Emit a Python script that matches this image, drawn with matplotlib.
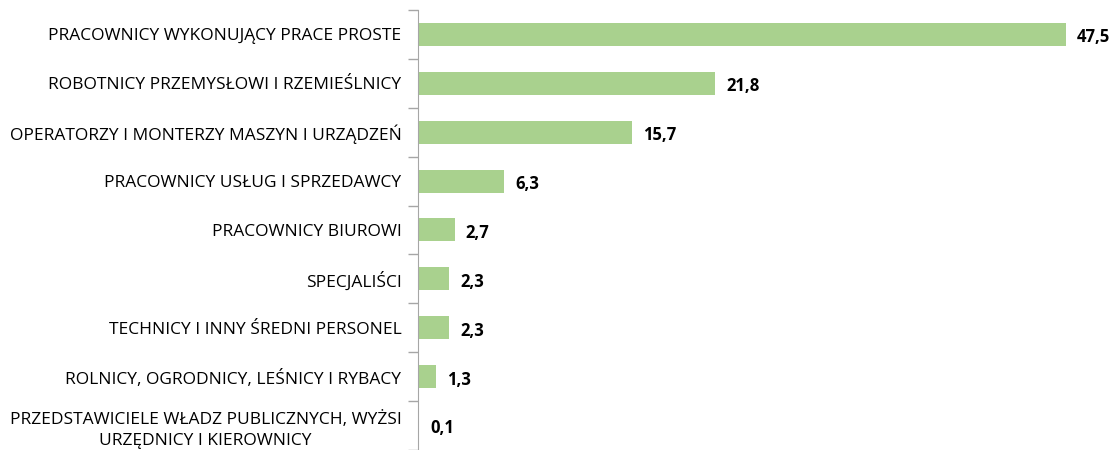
import numpy as np
import matplotlib.pyplot as plt

# DATA
categories = ['PRACOWNICY WYKONUJĄCY PRACE PROSTE',
              'ROBOTNICY PRZEMYSŁOWI I RZEMIEŚLNICY',
              'OPERATORZY I MONTERZY MASZYN I URZĄDZEŃ',
              'PRACOWNICY USŁUG I SPRZEDAWCY',
              'PRACOWNICY BIUROWI',
              'SPECJALIŚCI',
              'TECHNICY I INNY ŚREDNI PERSONEL',
              'ROLNICY, OGRODNICY, LEŚNICY I RYBACY',
              'PRZEDSTAWICIELE WŁADZ PUBLICZNYCH, WYŻSI\nURZĘDNICY I KIEROWNICY']
values = [47.5, 21.8, 15.7, 6.3, 2.7, 2.3, 2.3, 1.3, 0.1]
value_labels = ['47,5', '21,8', '15,7', '6,3', '2,7', '2,3', '2,3', '1,3', '0,1']

plt.rcParams['font.family'] = ['Open Sans', 'DejaVu Sans']

fig = plt.figure(figsize=(11.16, 4.5), dpi=100)
ax = fig.add_axes([0.3746, 0.0, 0.611, 0.978])

y = np.arange(len(categories))
ax.barh(y, values, height=0.47, color='#A9D18E')
ax.set_ylim(len(categories) - 0.5, -0.5)
ax.set_xlim(0, 50)

for yi, v, lab in zip(y, values, value_labels):
    ax.text(v + 0.8, yi + 0.06, lab, va='center', ha='left',
            fontsize=12, fontweight='bold', color='black')

# category labels
ax.set_yticks(y)
ax.set_yticklabels(categories, fontsize=12.5, multialignment='center',
                   linespacing=1.45)
ax.tick_params(axis='y', length=0, pad=12)
ax.set_yticks(np.arange(-0.5, len(categories) + 0.5, 1), minor=True)
ax.tick_params(axis='y', which='minor', length=7, color='#A6A6A6', width=1)

ax.set_xticks([])
for s in ['top', 'right', 'bottom']:
    ax.spines[s].set_visible(False)
ax.spines['left'].set_color('#A6A6A6')

fig.savefig('out.png', dpi=100)
